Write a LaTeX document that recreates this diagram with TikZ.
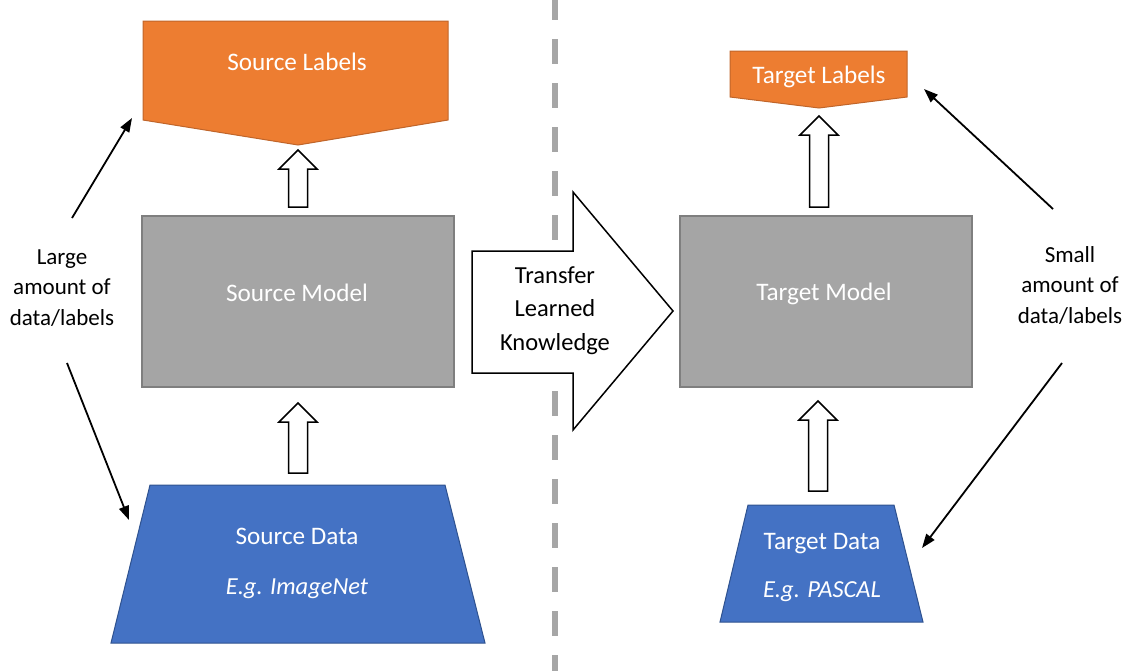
\documentclass[tikz,border=0pt]{standalone}
\usepackage{fontspec}
\setmainfont{Carlito}
\usetikzlibrary{arrows.meta}

\definecolor{labelfill}{HTML}{ED7D31}
\definecolor{labelline}{HTML}{C0652A}
\definecolor{modelfill}{HTML}{A5A5A5}
\definecolor{modelline}{HTML}{7F7F7F}
\definecolor{datafill}{HTML}{4472C4}
\definecolor{dataline}{HTML}{2F528F}
\definecolor{divider}{HTML}{A6A6A6}

\tikzset{
  labelshape/.style={fill=labelfill, draw=labelline, line width=1pt},
  modelshape/.style={fill=modelfill, draw=modelline, line width=1.5pt},
  datashape/.style={fill=datafill, draw=dataline, line width=1pt},
  blockarrow/.style={fill=white, draw=black, line width=1.5pt, line join=miter},
  inner/.style={text=white, font=\fontsize{25.2}{30}\selectfont, anchor=base, inner sep=0pt},
  innerit/.style={inner, font=\fontsize{24.5}{30}\selectfont\itshape},
  side/.style={text=black, font=\fontsize{23}{30.5}\selectfont, align=center, anchor=base, inner sep=0pt},
  pointer/.style={draw=black, line width=1.8pt, -{Triangle[length=14pt,width=10pt]}},
}

% hollow upward block arrow: x centre, tip y, bottom y
\newcommand\hollowup[3]{%
  \draw[blockarrow] ({#1-9.5},#3) -- ({#1-9.5},{#2+19}) -- ({#1-19},{#2+19})
    -- (#1,#2) -- ({#1+19},{#2+19}) -- ({#1+9.5},{#2+19}) -- ({#1+9.5},#3) -- cycle;}

\begin{document}
\begin{tikzpicture}[x=1pt,y=-1pt]
\useasboundingbox (0,0) rectangle (1132,670);

% divider between source and target domains
\draw[divider, line width=6pt, dash pattern=on 25pt off 19pt] (555,-5) -- (555,675);

% ---- source side ----
\draw[labelshape] (143,21) -- (448,21) -- (448,120) -- (298,145) -- (143,120) -- cycle;
\node[inner] (srclab) at (297,70) {Source Labels};

\node[modelshape, minimum width=312pt, minimum height=171pt, inner sep=0pt, anchor=north west] (srcmodel) at (141,215) {};
\node[inner] (srcmodeltxt) at (297,301) {Source Model};

\draw[datashape] (150,485) -- (445,485) -- (485,643) -- (111,643) -- cycle;
\node[inner] (srcdata) at (297,544) {Source Data};
\node[innerit] (srcdataeg) at (297,594) {E.g. ImageNet};

\hollowup{298}{150}{207}
\hollowup{298}{403}{473}

% ---- transfer arrow ----
\draw[blockarrow] (472,251) -- (573,251) -- (573,192) -- (673,311) -- (573,430) -- (573,373) -- (472,373) -- cycle;
\node[side, font=\fontsize{24.5}{33.5}\selectfont] (transfer) at (555,350) {Transfer\\Learned\\Knowledge};

% ---- target side ----
\draw[labelshape] (730,51) -- (907,51) -- (907,97) -- (819,108) -- (730,97) -- cycle;
\node[inner] (tgtlab) at (819,83) {Target Labels};

\node[modelshape, minimum width=292pt, minimum height=171pt, inner sep=0pt, anchor=north west] (tgtmodel) at (679,215) {};
\node[inner] (tgtmodeltxt) at (824,300) {Target Model};

\draw[datashape] (748,505) -- (894,505) -- (923,622) -- (720,622) -- cycle;
\node[inner] (tgtdata) at (822,549) {Target Data};
\node[innerit] (tgtdataeg) at (822,597) {E.g. PASCAL};

\hollowup{819}{116}{207}
\hollowup{818}{401}{491}

% ---- side annotations ----
\node[side] (large) at (62,325) {Large\\amount of\\data/labels};
\node[side] (small) at (1070,323) {Small\\amount of\\data/labels};

\coordinate (la1) at (72,218);   \coordinate (lb1) at (132,118);
\coordinate (la2) at (67,363);   \coordinate (lb2) at (129,520);
\coordinate (ra1) at (1053,209); \coordinate (rb1) at (924,89);
\coordinate (ra2) at (1062,363); \coordinate (rb2) at (922,548);

\draw[pointer] (la1) -- (lb1);
\draw[pointer] (la2) -- (lb2);
\draw[pointer] (ra1) -- (rb1);
\draw[pointer] (ra2) -- (rb2);
\end{tikzpicture}
\end{document}
